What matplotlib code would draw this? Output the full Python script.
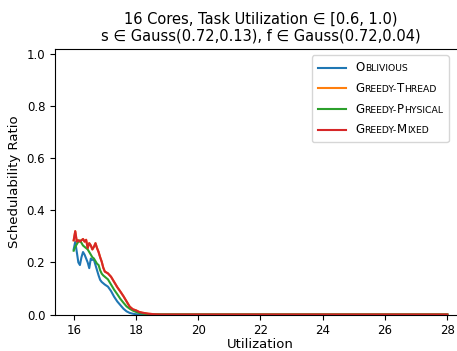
import matplotlib
matplotlib.use("Agg")
import matplotlib.pyplot as plt
from matplotlib.lines import Line2D
from matplotlib.offsetbox import AnchoredOffsetbox, HPacker, VPacker, TextArea, DrawingArea

# Utilization (x) samples
util = [16.0, 16.05, 16.1, 16.15, 16.2, 16.25, 16.3, 16.35, 16.4, 16.45,
        16.5, 16.55, 16.6, 16.65, 16.7, 16.75, 16.8, 16.85, 16.9, 16.95,
        17.0, 17.1, 17.2, 17.3, 17.4, 17.5, 17.6, 17.7, 17.8, 17.9,
        18.0, 18.1, 18.2, 18.3, 18.4, 18.5, 18.6, 18.8, 19.0, 28.0]

oblivious = [0.25, 0.28, 0.24, 0.20, 0.19, 0.22, 0.24, 0.23, 0.215, 0.20,
             0.178, 0.215, 0.21, 0.21, 0.19, 0.17, 0.15, 0.133, 0.125, 0.12,
             0.115, 0.107, 0.09, 0.068, 0.05, 0.036, 0.022, 0.012, 0.006, 0.003,
             0.001, 0.0, 0.0, 0.0, 0.0, 0.0, 0.0, 0.0, 0.0, 0.0]

greedy_physical = [0.245, 0.26, 0.27, 0.28, 0.285, 0.275, 0.265, 0.26, 0.255, 0.25,
                   0.24, 0.23, 0.22, 0.215, 0.205, 0.195, 0.19, 0.17, 0.157, 0.15,
                   0.145, 0.135, 0.115, 0.095, 0.078, 0.06, 0.045, 0.031, 0.022, 0.015,
                   0.01, 0.006, 0.004, 0.002, 0.001, 0.0, 0.0, 0.0, 0.0, 0.0]

greedy_mixed = [0.285, 0.32, 0.28, 0.285, 0.28, 0.285, 0.29, 0.28, 0.287, 0.255,
                0.274, 0.265, 0.25, 0.26, 0.274, 0.255, 0.24, 0.22, 0.203, 0.18,
                0.165, 0.158, 0.145, 0.125, 0.105, 0.088, 0.07, 0.05, 0.03, 0.02,
                0.016, 0.01, 0.007, 0.005, 0.003, 0.002, 0.001, 0.0, 0.0, 0.0]

# greedy-thread is drawn under greedy-mixed (same values)
greedy_thread = list(greedy_mixed)

labels = ["Oblivious", "Greedy-Thread", "Greedy-Physical", "Greedy-Mixed"]
colors = ["#1f77b4", "#ff7f0e", "#2ca02c", "#d62728"]
series = [oblivious, greedy_thread, greedy_physical, greedy_mixed]

fig = plt.figure(figsize=(4.57, 3.51), dpi=100)
ax = fig.add_axes([55 / 457, 36.5 / 351, 411 / 457, 265.5 / 351])

for ys, c in zip(series, colors):
    ax.plot(util, ys, color=c, lw=1.5)

ax.set_xlim(15.4, 28.6)
ax.set_ylim(0, 1.02)
ax.set_xticks(range(16, 29, 2))
ax.set_yticks([0.0, 0.2, 0.4, 0.6, 0.8, 1.0])
ax.tick_params(labelsize=8.5)
ax.spines["right"].set_visible(False)
ax.set_xlabel("Utilization", fontsize=9.5, labelpad=0.5)
ax.set_ylabel("Schedulability Ratio", fontsize=9.5)
ax.set_title("16 Cores, Task Utilization \u2208 [0.6, 1.0)\n"
             "s \u2208 Gauss(0.72,0.13), f \u2208 Gauss(0.72,0.04)", fontsize=10.5)


# legend with small caps labels
def small_caps(label, size):
    parts = []
    for ch in label:
        big = ch.isupper()
        if parts and parts[-1][1] == big:
            parts[-1][0] += ch
        else:
            parts.append([ch, big])
    boxes = [TextArea(t if big else t.upper(),
                      textprops=dict(fontsize=size if big else size * 0.78))
             for t, big in parts]
    return HPacker(children=boxes, align="baseline", pad=0, sep=0)


rows = []
for lab, c in zip(labels, colors):
    da = DrawingArea(20, 6)
    da.add_artist(Line2D([0, 20], [3, 3], color=c, lw=1.5))
    rows.append(HPacker(children=[da, small_caps(lab, 8.5)], align="center", pad=0, sep=7))
box = VPacker(children=rows, align="left", pad=0, sep=5.5)
leg = AnchoredOffsetbox(loc="upper right", child=box, pad=0.45, borderpad=0, frameon=True,
                        bbox_to_anchor=(449 / 457, 1 - 55 / 351), bbox_transform=fig.transFigure)
leg.patch.set_boxstyle("round,pad=0,rounding_size=0.2")
leg.patch.set_edgecolor("0.8")
leg.patch.set_alpha(0.8)
ax.add_artist(leg)

fig.savefig("out.png", dpi=100)
